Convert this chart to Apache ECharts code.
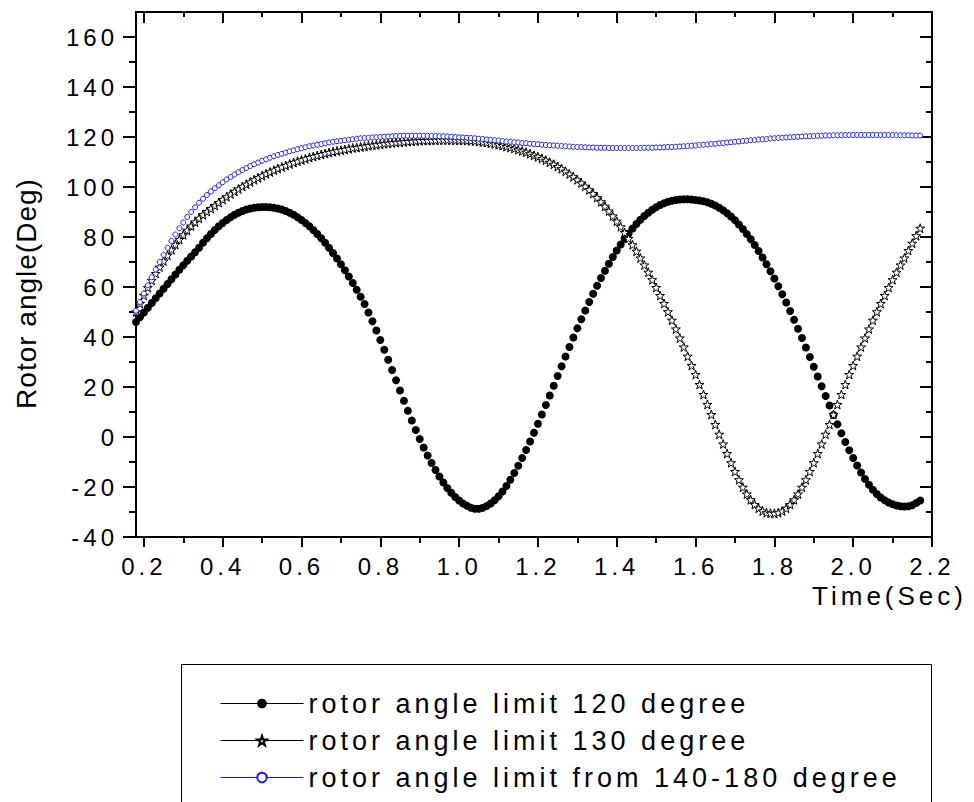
<!DOCTYPE html>
<html>
<head>
<meta charset="utf-8">
<script src="https://cdn.jsdelivr.net/npm/echarts@6/dist/echarts.min.js"></script>
<style>
  html, body { margin: 0; padding: 0; background: #ffffff; }
  #chart { width: 974px; height: 802px; }
  #chart text { letter-spacing: 4px; }
  #chart text[style*="28px"] { letter-spacing: 1px; }
</style>
</head>
<body>
<div id="chart"></div>
<script>
// Simulation time (s), sampled every 10 ms
const time = [
  0.18,0.19,0.20,0.21,0.22,0.23,0.24,0.25,0.26,0.27,
  0.28,0.29,0.30,0.31,0.32,0.33,0.34,0.35,0.36,0.37,
  0.38,0.39,0.40,0.41,0.42,0.43,0.44,0.45,0.46,0.47,
  0.48,0.49,0.50,0.51,0.52,0.53,0.54,0.55,0.56,0.57,
  0.58,0.59,0.60,0.61,0.62,0.63,0.64,0.65,0.66,0.67,
  0.68,0.69,0.70,0.71,0.72,0.73,0.74,0.75,0.76,0.77,
  0.78,0.79,0.80,0.81,0.82,0.83,0.84,0.85,0.86,0.87,
  0.88,0.89,0.90,0.91,0.92,0.93,0.94,0.95,0.96,0.97,
  0.98,0.99,1.00,1.01,1.02,1.03,1.04,1.05,1.06,1.07,
  1.08,1.09,1.10,1.11,1.12,1.13,1.14,1.15,1.16,1.17,
  1.18,1.19,1.20,1.21,1.22,1.23,1.24,1.25,1.26,1.27,
  1.28,1.29,1.30,1.31,1.32,1.33,1.34,1.35,1.36,1.37,
  1.38,1.39,1.40,1.41,1.42,1.43,1.44,1.45,1.46,1.47,
  1.48,1.49,1.50,1.51,1.52,1.53,1.54,1.55,1.56,1.57,
  1.58,1.59,1.60,1.61,1.62,1.63,1.64,1.65,1.66,1.67,
  1.68,1.69,1.70,1.71,1.72,1.73,1.74,1.75,1.76,1.77,
  1.78,1.79,1.80,1.81,1.82,1.83,1.84,1.85,1.86,1.87,
  1.88,1.89,1.90,1.91,1.92,1.93,1.94,1.95,1.96,1.97,
  1.98,1.99,2.00,2.01,2.02,2.03,2.04,2.05,2.06,2.07,
  2.08,2.09,2.10,2.11,2.12,2.13,2.14,2.15,2.16,2.17
];

// Rotor angle (deg) with the 120 degree limit
const angle120 = [
  46.0,47.9,49.8,51.7,53.6,55.5,57.4,59.3,61.2,63.1,
  65.0,66.9,68.7,70.5,72.2,73.9,75.7,77.7,79.5,81.2,
  82.8,84.3,85.6,86.8,87.9,88.9,89.7,90.4,91.0,91.4,
  91.7,91.9,92.0,92.0,91.9,91.7,91.4,91.0,90.4,89.7,
  88.9,87.9,86.8,85.6,84.3,82.8,81.2,79.5,77.7,75.7,
  73.6,71.4,69.1,66.7,64.2,61.6,58.9,56.1,53.2,49.8,
  46.3,42.6,38.8,34.9,30.9,26.8,22.7,18.6,14.5,10.5,
  6.6,2.8,-0.8,-4.2,-7.4,-10.4,-13.2,-15.8,-18.2,-20.4,
  -22.3,-24.0,-25.4,-26.6,-27.5,-28.3,-28.7,-28.7,-28.3,-27.6,
  -26.6,-25.3,-23.7,-21.8,-19.6,-17.1,-14.4,-11.5,-8.4,-5.2,
  -1.8,1.7,5.3,9.0,12.8,16.6,20.5,24.4,28.3,32.2,
  36.0,39.8,43.5,47.1,50.6,54.0,57.3,60.5,63.6,66.5,
  69.3,72.0,74.6,77.0,79.3,81.4,83.4,85.2,86.9,88.4,
  89.7,90.9,91.9,92.8,93.5,94.1,94.5,94.8,95.0,95.1,
  95.1,95.0,94.8,94.6,94.3,93.9,93.3,92.6,91.7,90.7,
  89.5,88.2,86.7,85.0,83.2,81.2,79.1,76.8,74.4,71.8,
  69.1,66.3,63.4,60.3,57.1,53.8,50.4,46.9,43.3,39.6,
  35.8,32.0,28.1,24.2,20.3,16.4,12.6,8.8,5.1,1.5,
  -2.0,-5.3,-8.4,-11.4,-14.2,-16.8,-19.1,-21.1,-22.8,-24.2,
  -25.3,-26.2,-26.9,-27.4,-27.7,-27.8,-27.7,-27.3,-26.4,-25.4
];

// Rotor angle (deg) with the 130 degree limit
const angle130 = [
  50.0,53.4,56.7,59.8,62.7,65.4,68.0,70.4,72.7,74.9,
  77.0,79.0,80.9,82.7,84.4,86.0,87.5,88.9,90.2,91.4,
  92.6,93.8,95.0,96.1,97.2,98.2,99.2,100.2,101.1,102.0,
  102.9,103.7,104.5,105.3,106.0,106.7,107.4,108.0,108.6,109.2,
  109.8,110.3,110.8,111.3,111.8,112.2,112.6,113.0,113.4,113.8,
  114.1,114.4,114.7,115.0,115.3,115.6,115.8,116.0,116.3,116.5,
  116.7,116.9,117.1,117.3,117.5,117.6,117.8,117.9,118.0,118.2,
  118.3,118.4,118.5,118.6,118.6,118.7,118.7,118.8,118.8,118.8,
  118.8,118.7,118.7,118.7,118.6,118.5,118.4,118.2,118.0,117.8,
  117.5,117.2,116.9,116.6,116.2,115.8,115.4,114.9,114.4,113.9,
  113.3,112.7,112.1,111.4,110.7,109.9,109.1,108.2,107.3,106.3,
  105.2,104.1,102.9,101.6,100.3,98.9,97.4,95.8,94.1,92.3,
  90.4,88.4,86.3,84.1,81.8,79.4,76.9,74.3,71.6,68.8,
  65.9,62.9,59.8,56.6,53.4,50.1,46.7,43.2,39.6,36.0,
  32.3,28.6,25.0,21.0,17.0,13.0,9.0,5.0,1.1,-2.8,
  -6.6,-10.3,-13.8,-17.1,-20.1,-22.8,-25.1,-27.0,-28.5,-29.6,
  -30.3,-30.5,-30.5,-30.3,-29.6,-28.5,-27.0,-25.1,-22.8,-20.1,
  -17.1,-13.8,-10.3,-6.6,-2.8,1.1,5.0,9.0,13.0,17.0,
  21.0,25.0,28.6,32.3,36.0,39.6,43.2,46.7,50.1,53.4,
  56.6,59.8,62.9,65.9,68.8,71.6,74.6,77.5,80.5,83.5
];

// Rotor angle (deg) with limits from 140 to 180 degree
const angle140to180 = [
  50.5,54.0,57.4,60.7,63.9,67.0,70.0,72.9,75.7,78.4,
  81.0,83.5,85.8,88.0,90.0,91.9,93.7,95.3,96.8,98.2,
  99.5,100.7,101.9,103.0,104.0,105.0,105.9,106.8,107.6,108.4,
  109.1,109.8,110.5,111.1,111.7,112.3,112.8,113.3,113.8,114.3,
  114.7,115.1,115.5,115.9,116.3,116.6,116.9,117.2,117.5,117.8,
  118.1,118.3,118.5,118.7,118.9,119.1,119.3,119.5,119.6,119.7,
  119.8,119.9,120.0,120.1,120.2,120.3,120.4,120.4,120.5,120.5,
  120.5,120.5,120.5,120.5,120.5,120.4,120.4,120.3,120.3,120.2,
  120.1,120.0,119.9,119.8,119.7,119.6,119.5,119.3,119.2,119.0,
  118.9,118.7,118.6,118.4,118.2,118.1,117.9,117.8,117.6,117.5,
  117.3,117.2,117.1,116.9,116.8,116.7,116.6,116.5,116.4,116.3,
  116.2,116.1,116.0,116.0,115.9,115.8,115.8,115.7,115.7,115.7,
  115.6,115.6,115.6,115.6,115.6,115.6,115.6,115.6,115.6,115.7,
  115.7,115.7,115.8,115.8,115.9,116.0,116.0,116.1,116.2,116.3,
  116.4,116.5,116.6,116.8,116.9,117.0,117.2,117.3,117.5,117.6,
  117.8,117.9,118.1,118.2,118.4,118.5,118.7,118.8,119.0,119.1,
  119.2,119.4,119.5,119.6,119.7,119.8,119.9,120.0,120.1,120.2,
  120.3,120.3,120.4,120.5,120.5,120.6,120.6,120.7,120.7,120.7,
  120.8,120.8,120.8,120.8,120.8,120.8,120.8,120.8,120.8,120.8,
  120.8,120.8,120.8,120.7,120.7,120.7,120.7,120.6,120.6,120.6
];

const seriesNames = [
  'rotor angle limit 120 degree',
  'rotor angle limit 130 degree',
  'rotor angle limit from 140-180 degree'
];

// Axis ticks and labels
const xMajor = [0.2, 0.4, 0.6, 0.8, 1.0, 1.2, 1.4, 1.6, 1.8, 2.0, 2.2];
const xMinor = [0.3, 0.5, 0.7, 0.9, 1.1, 1.3, 1.5, 1.7, 1.9, 2.1];
const yMajor = [-40, -20, 0, 20, 40, 60, 80, 100, 120, 140, 160];
const yMinor = [-30, -10, 10, 30, 50, 70, 90, 110, 130, 150];
const xTitle = 'Time(Sec)';
const yTitle = 'Rotor angle(Deg)';

const FONT = 'Arial, "Liberation Sans", Helvetica, sans-serif';
const X_MIN = 0.18, X_MAX = 2.2, Y_MIN = -40, Y_MAX = 170;

function pairs(ys) { return time.map((t, i) => [t, ys[i]]); }

function xAxisDef(position, ticks, length, inside, extra) {
  return Object.assign({
    type: 'value', position: position, min: X_MIN, max: X_MAX,
    axisLine: { show: true, onZero: false, lineStyle: { color: '#000', width: 2 } },
    axisTick: { show: true, inside: inside, length: length, customValues: ticks,
                lineStyle: { color: '#000', width: 2 } },
    axisLabel: { show: false },
    splitLine: { show: false }
  }, extra || {});
}
function yAxisDef(position, ticks, length, inside, extra) {
  return Object.assign({
    type: 'value', position: position, min: Y_MIN, max: Y_MAX,
    axisLine: { show: true, onZero: false, lineStyle: { color: '#000', width: 2 } },
    axisTick: { show: true, inside: inside, length: length, customValues: ticks,
                lineStyle: { color: '#000', width: 2 } },
    axisLabel: { show: false },
    splitLine: { show: false }
  }, extra || {});
}

const starPath = 'path://M50,0 L61.8,35.1 L98.1,35.1 L68.8,56.8 L79.4,91 L50,70 L20.6,91 L31.2,56.8 L1.9,35.1 L38.2,35.1 Z';

const option = {
  backgroundColor: '#ffffff',
  animation: false,
  grid: { left: 136, right: 42, top: 12, bottom: 265, containLabel: false },
  xAxis: [
    xAxisDef('bottom', xMajor, 10, false, {
      axisLabel: { show: true, customValues: xMajor, margin: 17,
                   formatter: v => v.toFixed(1),
                   fontSize: 24, color: '#000', fontFamily: FONT },
      name: xTitle, nameLocation: 'end', nameGap: 35,
      nameTextStyle: { fontSize: 26, color: '#000', fontFamily: FONT,
                       align: 'right', verticalAlign: 'top', padding: [46, 0, 0, 0] }
    }),
    xAxisDef('bottom', xMinor, 6, false),
    xAxisDef('top', xMajor, 11, true),
    xAxisDef('top', xMinor, 5, true)
  ],
  yAxis: [
    yAxisDef('left', yMajor, 13, false, {
      axisLabel: { show: true, customValues: yMajor, margin: 18,
                   fontSize: 24, color: '#000', fontFamily: FONT },
      name: yTitle, nameLocation: 'middle', nameGap: 96, nameRotate: 90,
      nameTextStyle: { fontSize: 28, color: '#000', fontFamily: FONT, padding: [0, 38, 0, 0] }
    }),
    yAxisDef('left', yMinor, 7, false),
    yAxisDef('right', yMajor, 12, true),
    yAxisDef('right', yMinor, 6, true)
  ],
  legend: {
    show: true,
    orient: 'vertical',
    left: 215,
    top: 685,
    itemWidth: 83,
    itemHeight: 12,
    itemGap: 10,
    data: seriesNames,
    lineStyle: { width: 1 },
    textStyle: { fontSize: 27, color: '#000', fontFamily: FONT },
    selectedMode: false
  },
  graphic: [{
    type: 'rect', silent: true, z: 0,
    shape: { x: 181.5, y: 664.5, width: 750, height: 200 },
    style: { fill: 'none', stroke: '#000', lineWidth: 1 }
  }],
  series: [
    {
      name: seriesNames[0], type: 'line', data: pairs(angle120),
      xAxisIndex: 0, yAxisIndex: 0,
      symbol: 'circle', symbolSize: 8, showSymbol: true, showAllSymbol: true,
      lineStyle: { width: 0, color: '#000' },
      itemStyle: { color: '#000' },
      emphasis: { disabled: true }, silent: true
    },
    {
      name: seriesNames[1], type: 'line', data: pairs(angle130),
      xAxisIndex: 0, yAxisIndex: 0,
      symbol: starPath, symbolSize: 9, showSymbol: true, showAllSymbol: true,
      lineStyle: { width: 0, color: '#000' },
      itemStyle: { color: '#ffffff', borderColor: '#000', borderWidth: 1 },
      emphasis: { disabled: true }, silent: true
    },
    {
      name: seriesNames[2], type: 'line', data: pairs(angle140to180),
      xAxisIndex: 0, yAxisIndex: 0,
      symbol: 'circle', symbolSize: 5, showSymbol: true, showAllSymbol: true,
      lineStyle: { width: 0, color: '#1a1aff' },
      itemStyle: { color: '#ffffff', borderColor: '#1a1aff', borderWidth: 1 },
      emphasis: { disabled: true }, silent: true
    }
  ]
};

const chart = echarts.init(document.getElementById('chart'), null, { renderer: 'svg', width: 974, height: 802 });
chart.setOption(option);
</script>
</body>
</html>
